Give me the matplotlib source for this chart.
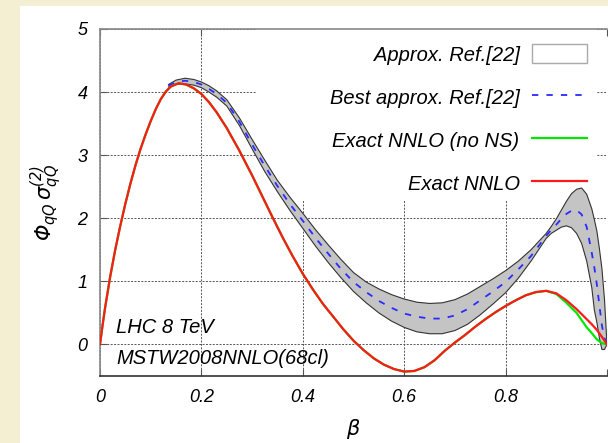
import matplotlib
matplotlib.use("Agg")
import matplotlib.pyplot as plt
from matplotlib.patches import Rectangle, Patch
from matplotlib.lines import Line2D

# values
beta_red = [0.0, 0.005, 0.01, 0.02, 0.03, 0.04, 0.05, 0.06, 0.07, 0.08, 0.09, 0.10,
            0.11, 0.12, 0.13, 0.14, 0.155, 0.17, 0.185, 0.20, 0.215, 0.23, 0.25, 0.275,
            0.30, 0.32, 0.34, 0.36, 0.38, 0.40, 0.42, 0.44, 0.46, 0.48, 0.50, 0.52,
            0.54, 0.56, 0.58, 0.60, 0.62, 0.64, 0.66, 0.68, 0.70, 0.72, 0.74, 0.76,
            0.78, 0.80, 0.82, 0.84, 0.86, 0.88, 0.90, 0.92, 0.94, 0.96, 0.97, 0.98,
            0.99, 1.0]
exact_nnlo = [0.0, 0.3, 0.58, 1.07, 1.50, 1.88, 2.23, 2.55, 2.84, 3.10, 3.33, 3.54,
              3.73, 3.89, 4.01, 4.09, 4.14, 4.12, 4.06, 3.97, 3.84, 3.68, 3.43, 3.07,
              2.68, 2.35, 2.02, 1.70, 1.40, 1.12, 0.87, 0.64, 0.44, 0.24, 0.06, -0.09,
              -0.22, -0.32, -0.39, -0.43, -0.42, -0.36, -0.25, -0.10, 0.03, 0.15, 0.28, 0.40,
              0.51, 0.61, 0.70, 0.78, 0.83, 0.85, 0.81, 0.70, 0.56, 0.40, 0.32, 0.23,
              0.12, 0.0]
# no-NS curve equals the exact one up to beta=0.88
beta_green = beta_red[:54] + [0.90, 0.92, 0.94, 0.96, 0.97, 0.98, 0.99, 1.0]
exact_no_ns = exact_nnlo[:54] + [0.80, 0.66, 0.50, 0.27, 0.18, 0.08, 0.02, 0.0]

beta_band = [0.135, 0.15, 0.168, 0.185, 0.20, 0.215, 0.23, 0.25, 0.275, 0.30, 0.325, 0.35,
             0.375, 0.40, 0.425, 0.45, 0.475, 0.50, 0.525, 0.55, 0.575, 0.60, 0.625, 0.65,
             0.675, 0.70, 0.725, 0.75, 0.775, 0.80, 0.825, 0.85, 0.865, 0.88, 0.89, 0.90,
             0.91, 0.92, 0.93, 0.94, 0.95, 0.96, 0.97, 0.975, 0.98, 0.985, 0.99, 0.995, 1.0]
band_hi = [4.12, 4.19, 4.22, 4.20, 4.16, 4.10, 4.02, 3.88, 3.59, 3.25, 2.92, 2.60,
           2.33, 2.08, 1.82, 1.58, 1.35, 1.14, 0.99, 0.88, 0.79, 0.72, 0.67, 0.65,
           0.66, 0.71, 0.80, 0.92, 1.04, 1.17, 1.32, 1.50, 1.63, 1.76, 1.87, 1.99,
           2.13, 2.27, 2.39, 2.46, 2.48, 2.38, 2.15, 1.98, 1.80, 1.52, 1.20, 0.72, 0.0]
band_lo = [4.08, 4.12, 4.13, 4.11, 4.07, 4.00, 3.92, 3.78, 3.47, 3.10, 2.74, 2.42,
           2.12, 1.84, 1.56, 1.30, 1.06, 0.84, 0.66, 0.50, 0.37, 0.27, 0.20, 0.17,
           0.17, 0.22, 0.32, 0.47, 0.64, 0.82, 1.05, 1.32, 1.50, 1.68, 1.76, 1.81,
           1.86, 1.88, 1.85, 1.76, 1.60, 1.32, 0.90, 0.55, 0.35, 0.10, -0.08, -0.08, 0.0]
best_approx = [4.10, 4.16, 4.18, 4.16, 4.12, 4.05, 3.97, 3.83, 3.53, 3.17, 2.83, 2.51,
               2.22, 1.96, 1.69, 1.44, 1.20, 0.99, 0.83, 0.69, 0.58, 0.49, 0.44, 0.41,
               0.41, 0.46, 0.56, 0.70, 0.84, 0.99, 1.19, 1.40, 1.56, 1.72, 1.82, 1.90,
               1.99, 2.07, 2.12, 2.13, 2.06, 1.86, 1.45, 1.22, 0.95, 0.62, 0.30, 0.10, 0.0]

xticks = [0, 0.2, 0.4, 0.6, 0.8, 1.0]
xticklabels = ["0", "0.2", "0.4", "0.6", "0.8", ""]
yticks = [0, 1, 2, 3, 4, 5]

plt.rcParams["font.family"] = ["Liberation Sans", "DejaVu Sans"]
plt.rcParams["font.style"] = "italic"
plt.rcParams["mathtext.fontset"] = "dejavusans"

fig = plt.figure(figsize=(6.08, 4.43), dpi=100, facecolor="#f4eed2")
fig.patches.append(Rectangle((20 / 608, 0), 588 / 608, 437 / 443, transform=fig.transFigure,
                             facecolor="white", edgecolor="none", zorder=-1))
ax = fig.add_axes([100 / 608, 67 / 443, 507 / 608, 347 / 443])
ax.set_facecolor("white")

ax.set_xlim(0, 1)
ax.set_ylim(-0.5, 5)
ax.set_xticks(xticks)
ax.set_xticklabels(xticklabels)
ax.set_yticks(yticks)
ax.tick_params(direction="in", length=5, labelsize=13, color="#555", top=True,
               pad=9)
ax.set_axisbelow(True)
ax.grid(True, color="#555", linestyle=(0, (2, 1.5)), linewidth=0.7)

for s in ["left", "top"]:
    ax.spines[s].set_color("#888")
ax.spines["bottom"].set_color("#333")
ax.spines["right"].set_visible(False)
for s in ax.spines.values():
    s.set_linewidth(1.2)

# white key area hides the grid like the original
ax.add_patch(Rectangle((0.308, 0.507), 0.672, 0.493, transform=ax.transAxes,
                       facecolor="white", edgecolor="none", zorder=1))

ax.fill_between(beta_band, band_lo, band_hi, facecolor="#c4c4c4", edgecolor="none", zorder=2)
ax.plot(beta_band, band_hi, color="#333", lw=0.8, zorder=2.1)
ax.plot(beta_band, band_lo, color="#333", lw=0.8, zorder=2.1)
ax.plot(beta_band, best_approx, color="#2a2aff", lw=1.3, dashes=(3.5, 4.5), zorder=3)
ax.plot(beta_green, exact_no_ns, color="#00e600", lw=1.6, zorder=4)
ax.plot(beta_red, exact_nnlo, color="#ff1a1a", lw=1.6, zorder=5)

handles = [Patch(facecolor="white", edgecolor="#aaa", lw=1.0),
           Line2D([], [], color="#2a2aff", lw=1.3, dashes=(3.5, 4.5)),
           Line2D([], [], color="#00e600", lw=1.6),
           Line2D([], [], color="#ff1a1a", lw=1.6)]
labels = ["Approx. Ref.[22]", "Best approx. Ref.[22]", "Exact NNLO (no NS)", "Exact NNLO"]
leg = ax.legend(handles, labels, loc="upper right", bbox_to_anchor=(587 / 608, 1 - 44 / 443),
                bbox_transform=fig.transFigure, markerfirst=False, frameon=False,
                fontsize=14.5, handlelength=2.75, handleheight=1.1, handletextpad=0.6,
                labelspacing=1.12, borderpad=0, borderaxespad=0)

ax.text(0.032, 0.124, "LHC 8 TeV", transform=ax.transAxes, fontsize=14.5, va="baseline")
ax.text(0.032, 0.035, "MSTW2008NNLO(68cl)", transform=ax.transAxes, fontsize=14.5,
        va="baseline")

ax.set_xlabel(r"$\mathrm{\beta}$", fontsize=15, labelpad=8)
ax.set_ylabel(r"$\mathrm{\Phi_{qQ}\,\sigma_{qQ}^{(2)}}$", fontsize=15, labelpad=10)

plt.savefig("out.png", dpi=100, facecolor=fig.get_facecolor())
